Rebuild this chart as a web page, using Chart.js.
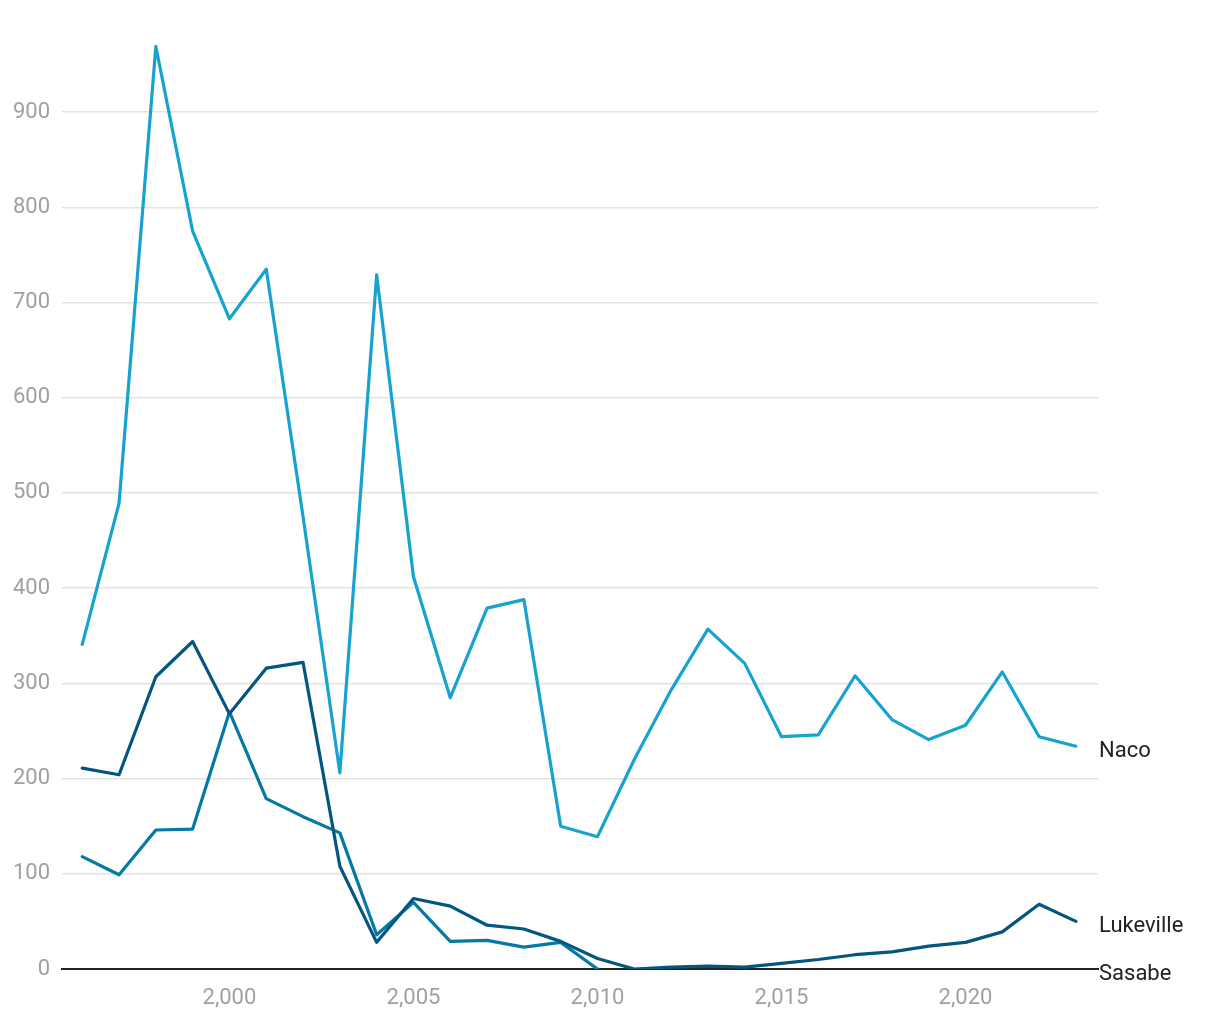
<!DOCTYPE html>
<html>
<head>
<meta charset="utf-8">
<script src="https://cdn.jsdelivr.net/npm/chart.js@4"></script>
<style>
  body { margin: 0; background: #fff; }
  #wrap { width: 1220px; height: 1020px; }
</style>
</head>
<body>
<div id="wrap"><canvas id="chart"></canvas></div>
<script>
const years = [1996, 1997, 1998, 1999, 2000, 2001, 2002, 2003, 2004, 2005, 2006, 2007, 2008, 2009,
  2010, 2011, 2012, 2013, 2014, 2015, 2016, 2017, 2018, 2019, 2020, 2021, 2022, 2023];
const naco = [341, 489, 969, 775, 683, 735, 475, 206, 729, 412, 285, 379, 388, 150,
  139, 220, 293, 357, 321, 244, 246, 308, 262, 241, 256, 312, 244, 234];
const lukeville = [211, 204, 307, 344, 268, 316, 322, 108, 28, 74, 66, 46, 42, 29,
  11, 0, 2, 3, 2, 6, 10, 15, 18, 24, 28, 39, 68, 50];
const sasabe = [118, 99, 146, 147, 270, 179, 160, 143, 36, 70, 29, 30, 23, 28,
  0, null, null, null, null, null, null, null, null, null, null, null, null, null];
const xTicks = [2000, 2005, 2010, 2015, 2020];

function pts(vals) {
  return years.map((y, i) => ({ x: y, y: vals[i] }));
}

// series name at the right end of each line
const endLabels = {
  id: 'endLabels',
  afterDatasetsDraw(chart) {
    const ctx = chart.ctx;
    const xs = chart.scales.x, ys = chart.scales.y;
    ctx.save();
    ctx.font = '22px Roboto';
    ctx.fillStyle = '#222';
    ctx.textBaseline = 'middle';
    chart.data.datasets.forEach(ds => {
      let last = 0;
      ds.data.forEach(p => { if (p.y !== null) last = p.y; });
      ctx.fillText(ds.label, xs.right + 1, ys.getPixelForValue(last) + 5);
    });
    ctx.restore();
  }
};

const lineStyle = { borderWidth: 3.2, pointRadius: 0, tension: 0, borderJoinStyle: 'round', borderCapStyle: 'round' };

new Chart(document.getElementById('chart'), {
  type: 'line',
  data: {
    datasets: [
      Object.assign({ label: 'Naco', data: pts(naco), borderColor: '#17a2d0' }, lineStyle),
      Object.assign({ label: 'Lukeville', data: pts(lukeville), borderColor: '#03567f' }, lineStyle),
      Object.assign({ label: 'Sasabe', data: pts(sasabe), borderColor: '#0479a5', spanGaps: false }, lineStyle)
    ]
  },
  options: {
    responsive: true,
    maintainAspectRatio: false,
    animation: false,
    layout: { padding: { top: 36, right: 122, bottom: 0, left: 0 } },
    plugins: {
      legend: { display: false },
      tooltip: { enabled: false }
    },
    scales: {
      x: {
        type: 'linear',
        min: 1995.45,
        max: 2023.6,
        afterBuildTicks: s => { s.ticks = xTicks.map(v => ({ value: v })); },
        afterFit: s => { s.height = 51; },
        grid: { display: false, drawTicks: false },
        border: { color: '#222', width: 2 },
        ticks: {
          color: '#a0a0a0',
          font: { family: 'Roboto', size: 22 },
          padding: 16,
          maxRotation: 0,
          callback: v => v.toLocaleString('en-US')
        }
      },
      y: {
        min: 0,
        max: 980,
        afterFit: s => { s.width = 62; },
        afterBuildTicks: s => { s.ticks = s.ticks.filter(t => t.value % 100 === 0); },
        grid: { color: '#e3e3e3', lineWidth: 1.5, drawTicks: false },
        border: { display: false },
        ticks: {
          stepSize: 100,
          color: '#a0a0a0',
          font: { family: 'Roboto', size: 22 },
          padding: 12
        }
      }
    }
  },
  plugins: [endLabels]
});
</script>
</body>
</html>
